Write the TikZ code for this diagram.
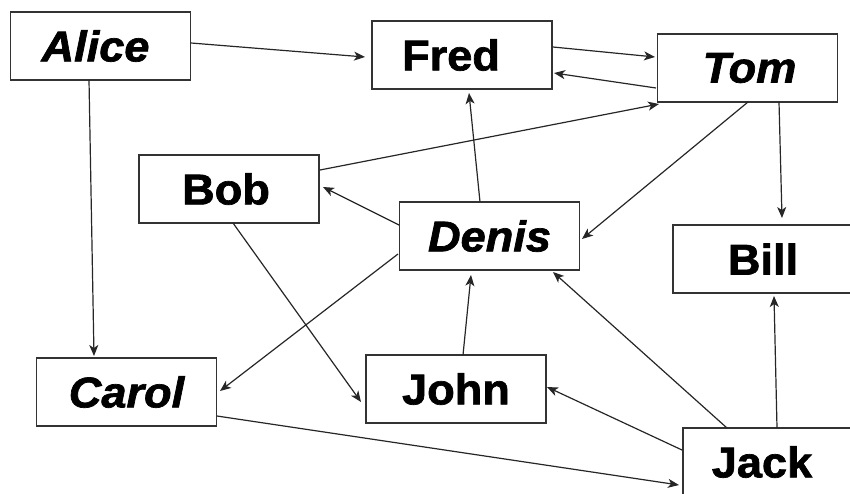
\documentclass[tikz,border=0pt]{standalone}
\usepackage{fontspec}
\newfontfamily\nodefont{Liberation Sans}[FakeStretch=1.05,FakeBold=1.6]
\usetikzlibrary{arrows.meta,calc}
\begin{document}
\begin{tikzpicture}[x=1pt,y=-1pt,
  box/.style={draw=black!80, line width=1.4pt, minimum width=180pt, minimum height=68pt, inner sep=0pt,
    font=\nodefont\fontsize{43}{50}\selectfont\bfseries},
  ibox/.style={box, font=\nodefont\fontsize{43}{50}\selectfont\bfseries\itshape},
  link/.style={draw=black!85, line width=1.2pt, -{Stealth[length=11pt,width=9pt,inset=3pt]}}]
\useasboundingbox (0,0) rectangle (850,493);
\clip (0,0) rectangle (850,493);
\node[ibox] (alice) at (100.5,46) {Alice\hspace*{10pt}};
\node[box]  (fred)  at (462,55)   {Fred\hspace*{22pt}};
\node[ibox] (tom)   at (747.5,68) {\hspace*{4pt}Tom};
\node[box]  (bob)   at (229,189)  {Bob\hspace*{6pt}};
\node[ibox] (denis) at (489.5,236){Denis};
\node[box]  (bill)  at (763,259)  {Bill};
\node[ibox] (carol) at (126.5,392){Carol};
\node[box]  (john)  at (456,389)  {John};
\node[box]  (jack)  at (773,462)  {Jack\hspace*{22pt}};

\draw[link] ($(alice)+(90.5,-3)$) -- ($(fred)+(-97,2)$);
\draw[link] ($(fred)+(91,-8)$) -- ($(tom)+(-92.5,-11)$);
\draw[link] ($(tom)+(-91.5,20)$) -- ($(fred)+(92,18)$);
\draw[link] ($(bob)+(91,-19)$) -- ($(tom)+(-88.5,36)$);
\draw[link] ($(denis)+(-90.5,-11)$) -- ($(bob)+(94,-2)$);
\draw[link] ($(denis)+(-9.5,-34)$) -- ($(fred)+(7,38)$);
\draw[link] ($(tom)+(0.5,34)$) -- ($(denis)+(92.5,3)$);
\draw[link] ($(tom)+(31.5,34)$) -- ($(bill)+(19,-41)$);
\draw[link] ($(bob)+(4,34)$) -- ($(john)+(-95,13)$);
\draw[link] ($(denis)+(-91.5,18)$) -- ($(carol)+(93.5,-1)$);
\draw[link] ($(alice)+(-11.5,34)$) -- ($(carol)+(-32.5,-36)$);
\draw[link] ($(john)+(7,-34)$) -- ($(denis)+(-18.5,39)$);
\draw[link] ($(jack)+(-46,-34)$) -- ($(denis)+(63.5,36)$);
\draw[link] ($(jack)+(-91,-12)$) -- ($(john)+(91,-2)$);
\draw[link] ($(carol)+(90.5,24)$) -- ($(jack)+(-94,23)$);
\draw[link] ($(jack)+(4,-34)$) -- ($(bill)+(11,37)$);
\end{tikzpicture}
\end{document}
